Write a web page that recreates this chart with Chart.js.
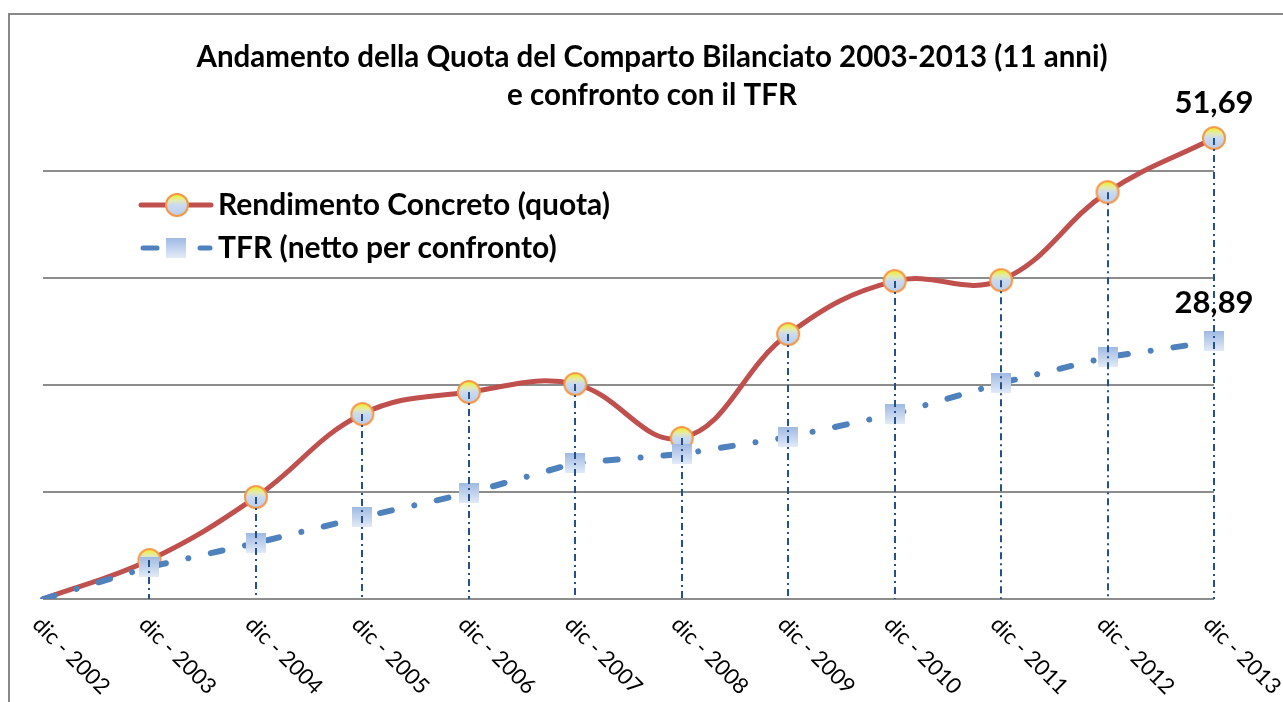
<!DOCTYPE html>
<html>
<head>
<title>Comparto Bilanciato vs TFR</title>
<script src="https://cdn.jsdelivr.net/npm/chart.js"></script>
<style>
  body { margin: 0; background: #fff; }
  #wrap { width: 1283px; height: 702px; position: relative; }
</style>
</head>
<body>
<div id="wrap"><canvas id="chart"></canvas></div>
<script>
const labels = ['dic - 2002', 'dic - 2003', 'dic - 2004', 'dic - 2005', 'dic - 2006', 'dic - 2007',
                'dic - 2008', 'dic - 2009', 'dic - 2010', 'dic - 2011', 'dic - 2012', 'dic - 2013'];
const rendimento = [0, 4.37, 11.43, 20.74, 23.21, 24.10, 18.05, 29.71, 35.65, 35.76, 45.63, 51.69];
const tfr = [0, 3.59, 6.28, 9.19, 11.88, 15.25, 16.26, 18.16, 20.74, 24.22, 27.13, 28.89];
const seriesNames = ['Rendimento Concreto (quota)', 'TFR (netto per confronto)'];
const titleLines = ['Andamento della Quota del Comparto Bilanciato 2003-2013 (11 anni)', 'e confronto con il TFR'];
const yMin = 0, yMax = 60, yStep = 12;

const FONT = 'Lato, "Open Sans", sans-serif';

// marker images (gradient fill like the Excel original)
function circleMarker() {
    const c = document.createElement('canvas');
    c.width = 26; c.height = 26;
    const g = c.getContext('2d');
    const grad = g.createLinearGradient(0, 2, 0, 24);
    grad.addColorStop(0, '#f2f21a');
    grad.addColorStop(0.3, '#e2eab4');
    grad.addColorStop(0.5, '#cbdaf0');
    grad.addColorStop(1, '#b9cce9');
    g.beginPath();
    g.arc(13, 13, 11, 0, Math.PI * 2);
    g.fillStyle = grad;
    g.fill();
    g.lineWidth = 2;
    g.strokeStyle = '#f79646';
    g.stroke();
    return c;
}
function squareMarker() {
    const c = document.createElement('canvas');
    c.width = 20; c.height = 20;
    const g = c.getContext('2d');
    const grad = g.createLinearGradient(0, 0, 0, 20);
    grad.addColorStop(0, '#a0bae3');
    grad.addColorStop(1, '#e3ebf7');
    g.fillStyle = grad;
    g.fillRect(0, 0, 20, 20);
    return c;
}
const circ = circleMarker();
const sq = squareMarker();
const radii = labels.map((l, i) => i === 0 ? 0 : 11);

const decor = {
    id: 'decor',
    beforeDraw(chart) {
        const ctx = chart.ctx;
        ctx.save();
        ctx.fillStyle = '#fff';
        ctx.fillRect(0, 0, chart.width, chart.height);
        ctx.strokeStyle = '#898989';
        ctx.lineWidth = 2;
        ctx.strokeRect(9, 14, 2000, 2000);
        ctx.restore();
    },
    afterDatasetsDraw(chart) {
        // drop lines from the Rendimento points
        const ctx = chart.ctx;
        const meta = chart.getDatasetMeta(0);
        const bottom = chart.chartArea.bottom;
        ctx.save();
        ctx.strokeStyle = '#24508c';
        ctx.lineWidth = 2;
        ctx.setLineDash([7, 4, 2, 4]);
        meta.data.forEach((p, i) => {
            if (i === 0) return;
            ctx.beginPath();
            ctx.moveTo(Math.round(p.x), p.y);
            ctx.lineTo(Math.round(p.x), bottom);
            ctx.stroke();
        });
        ctx.restore();
    },
    afterDraw(chart) {
        const ctx = chart.ctx;
        ctx.save();
        ctx.fillStyle = '#000';

        // title
        ctx.font = 'bold 29.5px ' + FONT;
        ctx.textAlign = 'center';
        ctx.textBaseline = 'middle';
        ctx.fillText(titleLines[0], 652, 57);
        ctx.fillText(titleLines[1], 652, 95);

        // legend
        ctx.lineCap = 'round';
        ctx.strokeStyle = '#c0504d';
        ctx.lineWidth = 5;
        ctx.beginPath(); ctx.moveTo(141, 205); ctx.lineTo(211, 205); ctx.stroke();
        ctx.drawImage(circ, 177 - 13, 205 - 13);
        ctx.strokeStyle = '#4f81bd';
        ctx.beginPath(); ctx.moveTo(143, 248); ctx.lineTo(157, 248); ctx.stroke();
        ctx.beginPath(); ctx.moveTo(200, 248); ctx.lineTo(210, 248); ctx.stroke();
        ctx.drawImage(sq, 176 - 10, 248 - 10);
        ctx.font = 'bold 30px ' + FONT;
        ctx.textAlign = 'left';
        ctx.fillText(seriesNames[0], 218, 205);
        ctx.fillText(seriesNames[1], 218, 248);

        // value labels on the last points
        const last = labels.length - 1;
        const p0 = chart.getDatasetMeta(0).data[last];
        const p1 = chart.getDatasetMeta(1).data[last];
        ctx.font = 'bold 31px ' + FONT;
        ctx.textAlign = 'center';
        ctx.fillText(rendimento[last].toFixed(2).replace('.', ','), p0.x, p0.y - 35);
        ctx.fillText(tfr[last].toFixed(2).replace('.', ','), p1.x, p1.y - 38);

        // rotated category labels
        const xs = chart.scales.x;
        ctx.font = '22px ' + FONT;
        ctx.textAlign = 'left';
        ctx.textBaseline = 'top';
        labels.forEach((l, i) => {
            const x = xs.getPixelForValue(i);
            ctx.save();
            ctx.translate(x + 1, 613);
            ctx.rotate(Math.PI / 4);
            ctx.fillText(l, 0, 0);
            ctx.restore();
        });
        ctx.restore();
    }
};

new Chart(document.getElementById('chart'), {
    type: 'line',
    data: {
        labels: labels,
        datasets: [{
            label: seriesNames[0],
            data: rendimento,
            order: 1,
            borderColor: '#c0504d',
            borderWidth: 5,
            tension: 0.4,
            pointStyle: circ,
            pointRadius: radii,
            pointHoverRadius: radii,
            fill: false
        }, {
            label: seriesNames[1],
            data: tfr,
            order: 0,
            borderColor: '#4f81bd',
            borderWidth: 6,
            borderCapStyle: 'round',
            borderDash: [12, 23, 0.01, 23],
            tension: 0,
            pointStyle: sq,
            pointRadius: radii,
            pointHoverRadius: radii,
            fill: false
        }]
    },
    options: {
        responsive: true,
        maintainAspectRatio: false,
        animation: false,
        layout: { padding: { left: 43, top: 64, right: 69, bottom: 103 } },
        plugins: {
            legend: { display: false },
            title: { display: false },
            tooltip: { enabled: false }
        },
        scales: {
            x: {
                offset: false,
                grid: { display: false, drawTicks: false },
                border: { display: false },
                ticks: { display: false }
            },
            y: {
                min: yMin,
                max: yMax,
                ticks: { display: false, stepSize: yStep },
                border: { display: false },
                grid: {
                    drawTicks: false,
                    lineWidth: 2,
                    color: c => c.tick.value === yMax ? 'rgba(0,0,0,0)' : '#8c8c8c'
                }
            }
        }
    },
    plugins: [decor]
});
</script>
</body>
</html>
